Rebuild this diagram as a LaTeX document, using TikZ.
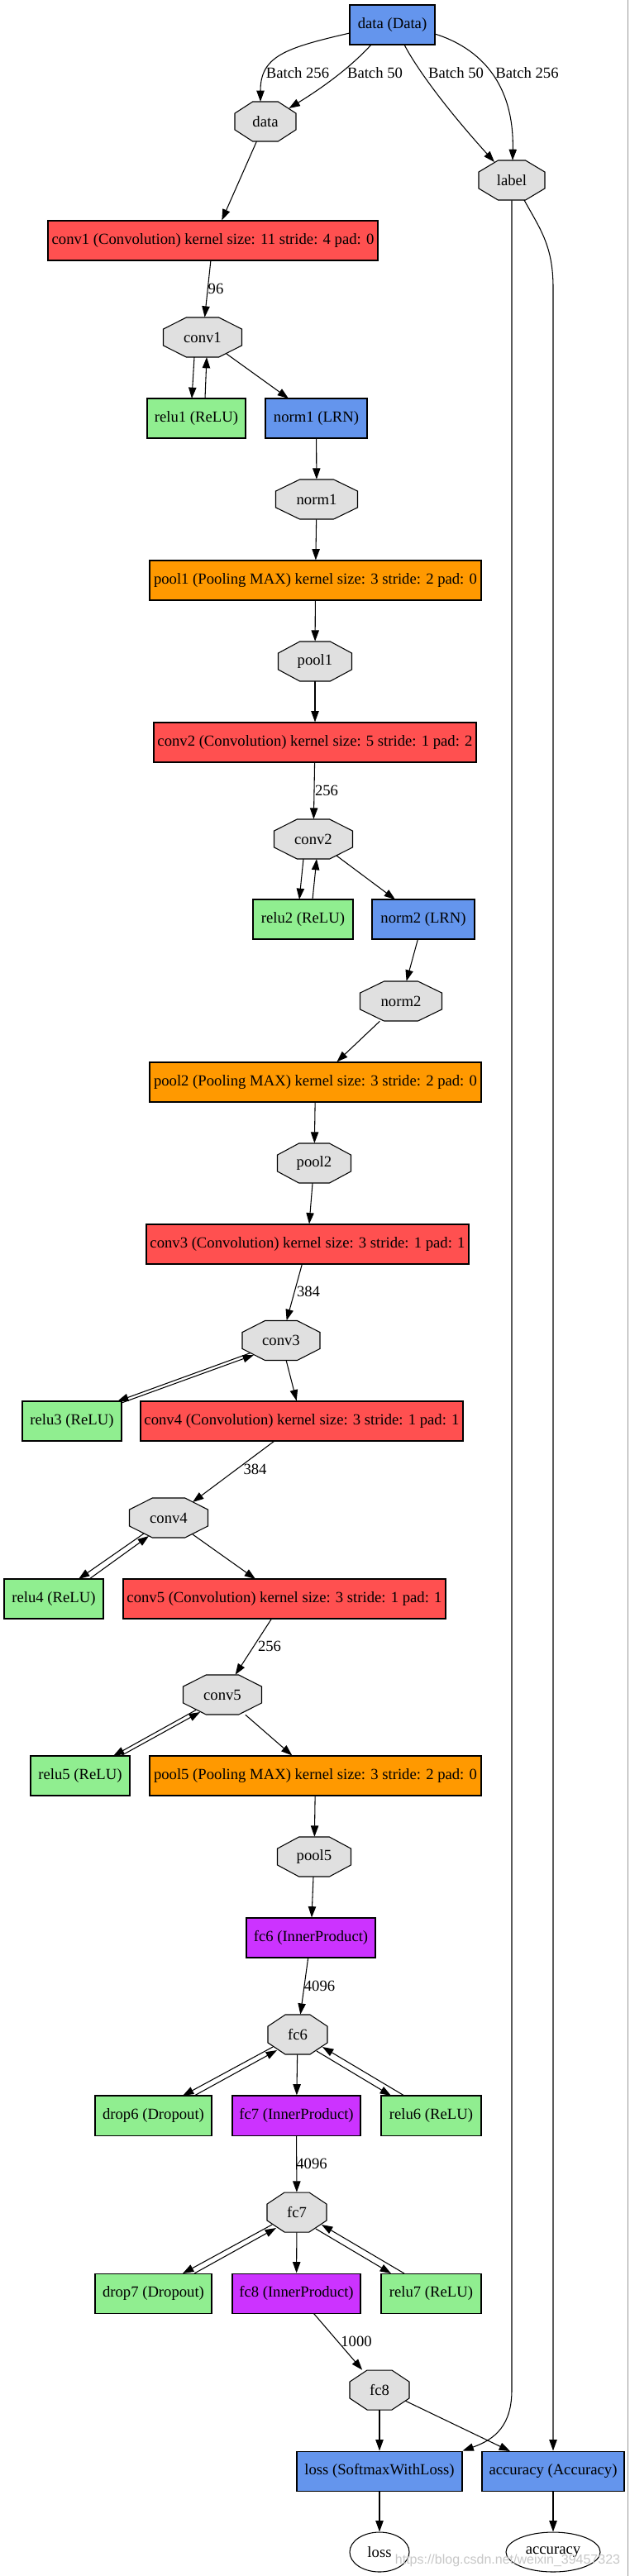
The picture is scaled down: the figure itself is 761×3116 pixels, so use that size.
\documentclass[tikz,border=0pt]{standalone}
\usepackage{fontspec}
\setmainfont{Liberation Serif}
\newfontfamily\wmfont{Liberation Sans}
\usetikzlibrary{arrows.meta,calc,shapes.geometric}
\definecolor{bluec}{HTML}{6495ED}
\definecolor{convc}{HTML}{FF5050}
\definecolor{poolc}{HTML}{FF9900}
\definecolor{reluc}{HTML}{90EE90}
\definecolor{ipc}{HTML}{CC33FF}
\definecolor{blobc}{HTML}{E0E0E0}
\tikzset{
  txt/.style={font=\fontsize{14}{16}\selectfont},
  box/.style={txt, rectangle, draw=black, line width=0.8pt, minimum height=36pt, inner xsep=3pt, inner ysep=0pt},
  blobtxt/.style={txt, rectangle, inner sep=0pt, minimum height=36pt},
  blobfill/.style={draw=black, line width=0.8pt, fill=blobc},
  outblob/.style={txt, ellipse, draw=black, line width=0.8pt, fill=white, minimum height=36pt, inner sep=0pt},
  conn/.style={line width=0.8pt, -{Triangle[length=10pt,width=7pt]}},
  elabel/.style={txt, inner sep=0pt},
}
\newcommand{\myblob}[5]{%
  \path[blobfill] ({#2-0.207*#4},{#3-24}) -- ({#2+0.207*#4},{#3-24}) -- ({#2+0.5*#4},{#3-9.94}) -- ({#2+0.5*#4},{#3+9.94}) -- ({#2+0.207*#4},{#3+24}) -- ({#2-0.207*#4},{#3+24}) -- ({#2-0.5*#4},{#3+9.94}) -- ({#2-0.5*#4},{#3-9.94}) -- cycle;
  \node[blobtxt, minimum width=#4*0.75pt] (#1) at (#2,#3) {#5};}
\begin{document}
\begin{tikzpicture}[x=0.75pt,y=-0.75pt]
\fill[white] (0,0) rectangle (761,3116);
\useasboundingbox (0,0) rectangle (761,3116);
\draw[black!40, line width=0.75pt] (759.5,0) -- (759.5,3116);

% nodes
\node[box, fill=bluec, minimum width=103*0.75pt] (ldata) at (474.5,30) {data (Data)};
\myblob{bdata}{321}{147}{74}{data}
\myblob{blabel}{619}{218}{80}{label}
\node[box, fill=convc, minimum width=399*0.75pt] (lconv1) at (257.5,291) {conv1 (Convolution) kernel size: 11 stride: 4 pad: 0};
\myblob{bconv1}{245}{408}{95}{conv1}
\node[box, fill=reluc, minimum width=119*0.75pt] (lrelu1) at (237.5,506) {relu1 (ReLU)};
\node[box, fill=bluec, minimum width=123*0.75pt] (lnorm1) at (382.5,506) {norm1 (LRN)};
\myblob{bnorm1}{383}{604}{99}{norm1}
\node[box, fill=poolc, minimum width=401*0.75pt] (lpool1) at (381.5,702) {pool1 (Pooling MAX) kernel size: 3 stride: 2 pad: 0};
\myblob{bpool1}{381}{800}{89}{pool1}
\node[box, fill=convc, minimum width=390*0.75pt] (lconv2) at (381,898) {conv2 (Convolution) kernel size: 5 stride: 1 pad: 2};
\myblob{bconv2}{379}{1015}{95}{conv2}
\node[box, fill=reluc, minimum width=121*0.75pt] (lrelu2) at (366.5,1112) {relu2 (ReLU)};
\node[box, fill=bluec, minimum width=124*0.75pt] (lnorm2) at (512,1112) {norm2 (LRN)};
\myblob{bnorm2}{485}{1211}{99}{norm2}
\node[box, fill=poolc, minimum width=401*0.75pt] (lpool2) at (381.5,1309) {pool2 (Pooling MAX) kernel size: 3 stride: 2 pad: 0};
\myblob{bpool2}{380}{1407}{89}{pool2}
\node[box, fill=convc, minimum width=390*0.75pt] (lconv3) at (372,1505) {conv3 (Convolution) kernel size: 3 stride: 1 pad: 1};
\myblob{bconv3}{340}{1621.5}{94}{conv3}
\node[box, fill=reluc, minimum width=120*0.75pt] (lrelu3) at (87,1719) {relu3 (ReLU)};
\node[box, fill=convc, minimum width=390*0.75pt] (lconv4) at (365,1719) {conv4 (Convolution) kernel size: 3 stride: 1 pad: 1};
\myblob{bconv4}{204}{1836}{95}{conv4}
\node[box, fill=reluc, minimum width=120*0.75pt] (lrelu4) at (65,1934) {relu4 (ReLU)};
\node[box, fill=convc, minimum width=390*0.75pt] (lconv5) at (344,1934) {conv5 (Convolution) kernel size: 3 stride: 1 pad: 1};
\myblob{bconv5}{269}{2050}{95}{conv5}
\node[box, fill=reluc, minimum width=120*0.75pt] (lrelu5) at (97,2148) {relu5 (ReLU)};
\node[box, fill=poolc, minimum width=401*0.75pt] (lpool5) at (381.5,2148) {pool5 (Pooling MAX) kernel size: 3 stride: 2 pad: 0};
\myblob{bpool5}{380}{2246}{89}{pool5}
\node[box, fill=ipc, minimum width=156*0.75pt] (lfc6) at (376,2344) {fc6 (InnerProduct)};
\myblob{bfc6}{360}{2461}{72}{fc6}
\node[box, fill=reluc, minimum width=141*0.75pt] (ldrop6) at (185.5,2559) {drop6 (Dropout)};
\node[box, fill=ipc, minimum width=155*0.75pt] (lfc7) at (358.5,2559) {fc7 (InnerProduct)};
\node[box, fill=reluc, minimum width=121*0.75pt] (lrelu6) at (521.5,2559) {relu6 (ReLU)};
\myblob{bfc7}{359}{2676}{72}{fc7}
\node[box, fill=reluc, minimum width=141*0.75pt] (ldrop7) at (185.5,2774) {drop7 (Dropout)};
\node[box, fill=ipc, minimum width=155*0.75pt] (lfc8) at (358.5,2774) {fc8 (InnerProduct)};
\node[box, fill=reluc, minimum width=121*0.75pt] (lrelu7) at (521.5,2774) {relu7 (ReLU)};
\myblob{bfc8}{459}{2891}{72}{fc8}
\node[box, fill=bluec, minimum width=200*0.75pt] (lloss) at (459,2989) {loss (SoftmaxWithLoss)};
\node[box, fill=bluec, minimum width=172*0.75pt] (lacc) at (669,2989) {accuracy (Accuracy)};
\node[outblob, minimum width=72*0.75pt] (eloss) at (459,3087) {loss};
\node[outblob, minimum width=114*0.75pt] (eacc) at (669,3087) {accuracy};

% edge labels
\node[elabel] (t1) at (360,88) {Batch 256};
\node[elabel] (t2) at (453.5,88) {Batch 50};
\node[elabel] (t3) at (551.5,88) {Batch 50};
\node[elabel] (t4) at (637.5,88) {Batch 256};
\node[elabel] (t5) at (261,349) {96};
\node[elabel] (t6) at (395,956) {256};
\node[elabel] (t7) at (373,1562) {384};
\node[elabel] (t8) at (308.5,1777) {384};
\node[elabel] (t9) at (326,1991.5) {256};
\node[elabel] (t10) at (386.5,2402) {4096};
\node[elabel] (t11) at (377,2617) {4096};
\node[elabel] (t12) at (431,2832) {1000};

% connectors
\draw[conn] ($(ldata)+(-51.5,10)$) .. controls ($(ldata)+(-129.5,28)$) and ($(bdata)+(-6,-79)$) .. ($(bdata)+(-6,-24)$);
\draw[conn] ($(ldata)+(-25.5,24)$) .. controls ($(ldata)+(-44.5,45)$) and ($(bdata)+(79,-47)$) .. ($(bdata)+(28.5,-16)$);
\draw[conn] ($(ldata)+(14.5,24)$) .. controls ($(ldata)+(22.5,40)$) and ($(blabel)+(-94,-103)$) .. ($(blabel)+(-21,-22)$);
\draw[conn] ($(ldata)+(51.5,11)$) .. controls ($(ldata)+(105.5,28)$) and ($(blabel)+(3,-118)$) .. ($(blabel)+(1,-24)$);
\draw[conn] (bdata) -- (lconv1);
\draw[conn] (lconv1) -- (bconv1);
\draw[conn] ($(bconv1)+(-10,24)$) -- ($(lrelu1)+(-5.5,-24)$);
\draw[conn] ($(lrelu1)+(10.5,-24)$) -- ($(bconv1)+(5,24)$);
\draw[conn] ($(bconv1)+(29,20)$) -- ($(lnorm1)+(-33.5,-24)$);
\draw[conn] (lnorm1) -- (bnorm1);
\draw[conn] (bnorm1) -- (lpool1);
\draw[conn] (lpool1) -- (bpool1);
\draw[conn] (bpool1) -- (lconv2);
\draw[conn] (lconv2) -- (bconv2);
\draw[conn] ($(bconv2)+(-12,24)$) -- ($(lrelu2)+(-4.5,-24)$);
\draw[conn] ($(lrelu2)+(11.5,-24)$) -- ($(bconv2)+(4,24)$);
\draw[conn] ($(bconv2)+(28,20)$) -- ($(lnorm2)+(-34,-24)$);
\draw[conn] (lnorm2) -- (bnorm2);
\draw[conn] (bnorm2) -- (lpool2);
\draw[conn] (lpool2) -- (bpool2);
\draw[conn] (bpool2) -- (lconv3);
\draw[conn] (lconv3) -- (bconv3);
\draw[conn] ($(bconv3)+(-37,15)$) -- ($(lrelu3)+(55,-24)$);
\draw[conn] ($(lrelu3)+(60,-22)$) -- ($(bconv3)+(-33,17.5)$);
\draw[conn] (bconv3) -- (lconv4);
\draw[conn] ($(lconv4)+(-33,24)$) -- ($(bconv4)+(29,-19)$);
\draw[conn] ($(bconv4)+(-30,19)$) -- ($(lrelu4)+(30,-24)$);
\draw[conn] ($(lrelu4)+(43,-24)$) -- ($(bconv4)+(-24,22)$);
\draw[conn] ($(bconv4)+(29,20)$) -- ($(lconv5)+(-35,-24)$);
\draw[conn] (lconv5) -- (bconv5);
\draw[conn] ($(bconv5)+(-32,18.5)$) -- ($(lrelu5)+(40,-24)$);
\draw[conn] ($(lrelu5)+(49,-24)$) -- ($(bconv5)+(-27,21)$);
\draw[conn] (bconv5) -- (lpool5);
\draw[conn] (lpool5) -- (bpool5);
\draw[conn] (bpool5) -- (lfc6);
\draw[conn] (lfc6) -- (bfc6);
\draw[conn] ($(bfc6)+(-30,15)$) -- ($(ldrop6)+(35.5,-24)$);
\draw[conn] ($(ldrop6)+(49.5,-24)$) -- ($(bfc6)+(-25,19)$);
\draw[conn] (bfc6) -- (lfc7);
\draw[conn] ($(bfc6)+(23,20)$) -- ($(lrelu6)+(-48.5,-24)$);
\draw[conn] ($(lrelu6)+(-32.5,-24)$) -- ($(bfc6)+(30,15)$);
\draw[conn] (lfc7) -- (bfc7);
\draw[conn] ($(bfc7)+(-30,15)$) -- ($(ldrop7)+(35.5,-24)$);
\draw[conn] ($(ldrop7)+(49.5,-24)$) -- ($(bfc7)+(-25,19)$);
\draw[conn] (bfc7) -- (lfc8);
\draw[conn] ($(bfc7)+(23,20)$) -- ($(lrelu7)+(-48.5,-24)$);
\draw[conn] ($(lrelu7)+(-32.5,-24)$) -- ($(bfc7)+(30,15)$);
\draw[conn] (lfc8) -- (bfc8);
\draw[conn] (bfc8) -- (lloss);
\draw[conn] ($(bfc8)+(31,13)$) -- ($(lacc)+(-52,-24)$);
\draw[conn] (lloss) -- (eloss);
\draw[conn] (lacc) -- (eacc);
\coordinate (lbend) at (blabel.south |- bfc8);
\draw[conn] (blabel.south) -- (lbend) .. controls ($(lbend)+(0,42)$) and ($(lloss.north east)+(40,-14)$) .. (lloss.north east);
\coordinate (rbend) at ($(lacc.north |- blabel)+(0,130)$);
\draw[conn] ($(blabel)+(15,24)$) .. controls ($(blabel)+(35,60)$) and ($(rbend)+(0,-50)$) .. (rbend) -- (lacc.north);

% watermark
\node[font=\wmfont\fontsize{12}{14}\selectfont, text=black!22, inner sep=0pt] (wm) at (614,3097) {https://blog.csdn.net/weixin\_39457323};
\end{tikzpicture}
\end{document}
